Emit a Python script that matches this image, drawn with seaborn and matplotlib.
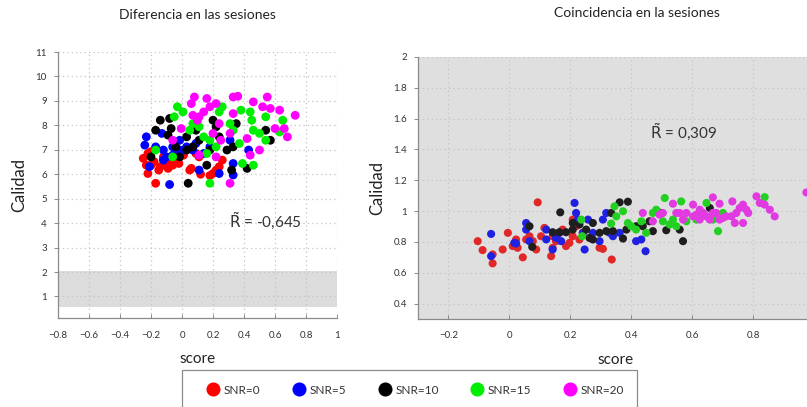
import pandas as pd
import matplotlib
matplotlib.use("Agg")
import matplotlib.pyplot as plt
import seaborn as sns
from matplotlib.patches import Rectangle
from matplotlib.ticker import FuncFormatter

# ---- data ----
snr_labels = ["SNR=0", "SNR=5", "SNR=10", "SNR=15", "SNR=20"]

# left panel: "Diferencia en las sesiones"
dif_x_snr0 = [-0.25, -0.23, -0.22, -0.20, -0.18, -0.17, -0.14, -0.12, -0.10, -0.08, -0.06, -0.04, -0.02, 0.01, 0.05,
              0.06, 0.09, 0.11, 0.20, 0.22, 0.24, 0.26, -0.22, -0.20, -0.15, -0.09, 0.00, 0.12, 0.18, -0.03]
dif_y_snr0 = [6.65, 6.37, 6.03, 6.92, 6.51, 5.63, 6.31, 6.71, 6.44, 6.58, 6.37, 6.85, 6.44, 6.78, 6.17,
              6.24, 6.85, 6.71, 6.03, 6.17, 6.31, 6.58, 6.85, 6.37, 6.17, 6.24, 6.90, 6.00, 5.95, 6.60]
dif_x_snr5 = [-0.23, -0.24, -0.21, -0.12, -0.08, -0.13, -0.12, -0.06, -0.015, 0.03, 0.07, 0.11, 0.18, 0.31, 0.33,
              0.43, 0.33, 0.24, -0.06, 0.01, -0.17, -0.10, 0.09, 0.14, -0.015]
dif_y_snr5 = [7.53, 7.19, 6.31, 6.58, 5.58, 7.67, 6.99, 6.78, 7.39, 7.12, 6.99, 6.17, 7.12, 7.39, 6.44,
              6.99, 5.97, 6.03, 7.12, 6.99, 7.12, 6.71, 7.26, 6.85, 6.99]
dif_x_snr10 = [-0.14, -0.08, -0.17, -0.07, -0.09, -0.20, -0.04, 0.03, 0.04, 0.09, 0.16, 0.20, 0.22, 0.29, 0.33,
               0.35, 0.42, 0.32, 0.54, 0.57, 0.03, 0.11, -0.015, 0.24, 0.18, 0.07]
dif_y_snr10 = [8.21, 8.28, 7.80, 7.87, 7.60, 6.71, 7.12, 6.99, 5.63, 7.80, 6.37, 8.21, 7.94, 6.99, 7.12,
               8.07, 6.24, 6.17, 7.80, 7.39, 7.53, 7.39, 6.71, 7.53, 6.99, 7.12]
dif_x_snr15 = [-0.03, 0.006, -0.05, -0.17, -0.06, 0.05, 0.11, 0.14, 0.18, 0.18, 0.24, 0.26, 0.31, 0.33, 0.38,
               0.44, 0.45, 0.46, 0.50, 0.54, 0.54, 0.65, 0.63, 0.39, 0.46, 0.16, 0.07, 0.22, 0.37]
dif_y_snr15 = [8.76, 8.55, 8.35, 6.99, 6.71, 7.80, 7.94, 7.53, 7.39, 5.63, 8.55, 8.76, 8.07, 7.80, 8.62,
               8.55, 8.21, 7.80, 7.67, 8.35, 7.39, 8.21, 7.73, 6.44, 6.37, 6.85, 8.07, 7.12, 7.26]
dif_x_snr20 = [0.08, 0.06, 0.16, 0.18, 0.22, 0.33, 0.36, 0.55, 0.46, 0.52, 0.57, 0.63, 0.73, 0.60, 0.66,
               0.68, 0.07, 0.11, 0.14, 0.10, -0.005, -0.06, 0.24, 0.20, 0.25, 0.31, 0.33, 0.42, 0.50, 0.44,
               0.31, 0.22, 0.11]
dif_y_snr20 = [9.16, 8.89, 9.10, 8.76, 8.89, 9.16, 9.19, 9.16, 8.96, 8.76, 8.69, 8.62, 8.41, 7.87, 7.87,
               7.53, 8.41, 8.35, 8.55, 8.21, 7.87, 7.39, 8.07, 7.67, 7.39, 7.67, 8.48, 7.46, 6.99, 6.78,
               5.63, 6.71, 6.78]

# right panel: "Coincidencia en la sesiones"
coi_x_snr0 = [-0.104, -0.088, -0.055, -0.055, -0.022, -0.005, 0.011, 0.027, 0.044, 0.055, 0.066, 0.077, 0.088,
              0.093, 0.115, 0.137, 0.142, 0.153, 0.164, 0.175, 0.186, 0.197, 0.208, 0.219, 0.230, 0.241,
              0.296, 0.307, 0.336, 0.022, 0.104, 0.142, 0.208]
coi_y_snr0 = [0.805, 0.747, 0.719, 0.661, 0.751, 0.859, 0.773, 0.762, 0.700, 0.816, 0.837, 0.805, 0.751,
              1.057, 0.891, 0.708, 0.762, 0.805, 0.859, 0.880, 0.773, 0.794, 0.945, 0.902, 0.816, 0.859,
              0.762, 0.755, 0.686, 0.816, 0.837, 0.837, 0.837]
coi_x_snr5 = [-0.060, -0.060, 0.016, 0.022, 0.055, 0.055, 0.066, 0.121, 0.121, 0.142, 0.153, 0.164, 0.170,
              0.214, 0.219, 0.225, 0.241, 0.247, 0.258, 0.274, 0.296, 0.307, 0.318, 0.329, 0.340, 0.362,
              0.416, 0.433, 0.447]
coi_y_snr5 = [0.852, 0.708, 0.794, 0.790, 0.923, 0.880, 0.805, 0.880, 0.816, 0.751, 0.826, 0.859, 0.805,
              1.053, 0.988, 0.945, 0.859, 0.751, 0.945, 0.859, 0.805, 0.945, 0.988, 0.859, 0.837, 0.859,
              0.805, 0.816, 0.740]
coi_x_snr10 = [0.066, 0.075, 0.167, 0.142, 0.164, 0.186, 0.208, 0.230, 0.252, 0.263, 0.274, 0.296, 0.318,
               0.334, 0.340, 0.362, 0.389, 0.373, 0.384, 0.416, 0.438, 0.460, 0.471, 0.493, 0.515, 0.559,
               0.570, 0.658, 0.208, 0.274]
coi_y_snr10 = [0.902, 0.768, 0.992, 0.863, 0.863, 0.863, 0.880, 0.913, 0.880, 0.826, 0.923, 0.859, 0.870,
               0.988, 0.870, 1.057, 1.061, 0.822, 0.880, 0.902, 0.902, 0.934, 0.870, 0.990, 0.876, 0.880,
               0.805, 1.020, 0.923, 0.816]
coi_x_snr15 = [0.236, 0.239, 0.334, 0.345, 0.351, 0.373, 0.389, 0.400, 0.416, 0.433, 0.449, 0.471, 0.482,
               0.510, 0.504, 0.526, 0.537, 0.548, 0.564, 0.581, 0.614, 0.647, 0.685, 0.668, 0.701, 0.838]
coi_y_snr15 = [0.945, 0.837, 0.919, 1.031, 0.966, 0.999, 0.923, 0.902, 0.880, 0.934, 0.859, 0.988, 1.009,
               1.085, 0.934, 0.913, 0.945, 0.902, 1.063, 0.934, 0.945, 1.053, 0.870, 0.945, 0.988, 1.091]
coi_x_snr20 = [0.438, 0.471, 0.493, 0.504, 0.537, 0.548, 0.570, 0.581, 0.603, 0.614, 0.625, 0.636, 0.647,
               0.658, 0.668, 0.679, 0.690, 0.701, 0.712, 0.729, 0.732, 0.740, 0.745, 0.756, 0.767, 0.767,
               0.778, 0.784, 0.811, 0.822, 0.838, 0.855, 0.871, 0.975, 0.603, 0.625, 0.668, 0.690, 0.559]
coi_y_snr20 = [0.988, 0.934, 0.977, 0.988, 1.048, 0.988, 0.945, 0.988, 1.042, 0.977, 0.945, 0.988, 0.966,
               0.945, 1.089, 0.988, 1.048, 0.956, 0.966, 0.966, 1.063, 0.923, 0.988, 1.020, 1.042, 0.923,
               1.009, 0.988, 1.096, 1.053, 1.042, 1.009, 0.966, 1.121, 0.966, 1.009, 0.988, 0.945, 0.988]

r_dif = "-0,645"
r_coi = "0,309"


def make_frame(xs, ys):
    rows = []
    for label, x, y in zip(snr_labels, xs, ys):
        rows += [{"score": a, "Calidad": b, "SNR": label} for a, b in zip(x, y)]
    return pd.DataFrame(rows)


df_dif = make_frame([dif_x_snr0, dif_x_snr5, dif_x_snr10, dif_x_snr15, dif_x_snr20],
                    [dif_y_snr0, dif_y_snr5, dif_y_snr10, dif_y_snr15, dif_y_snr20])
df_coi = make_frame([coi_x_snr0, coi_x_snr5, coi_x_snr10, coi_x_snr15, coi_x_snr20],
                    [coi_y_snr0, coi_y_snr5, coi_y_snr10, coi_y_snr15, coi_y_snr20])

pal_left = dict(zip(snr_labels, ["#ff0000", "#0000ff", "#000000", "#00ee00", "#ff00ff"]))
pal_right = dict(zip(snr_labels, ["#e02828", "#2020e0", "#1e1e1e", "#22d022", "#e03ae0"]))

sns.set_style("ticks")
plt.rcParams["font.family"] = ["Lato", "DejaVu Sans"]
plt.rcParams["mathtext.fontset"] = "dejavusans"

fig = plt.figure(figsize=(8.07, 4.07), dpi=100)
W, H = 807, 407
ax1 = fig.add_axes([58 / W, 1 - 318 / H, (337 - 58) / W, (318 - 52) / H])
ax2 = fig.add_axes([418 / W, 1 - 319 / H, (814 - 418) / W, (319 - 57) / H])

grid_kw = dict(color="#c4c4c4", linestyle=(0, (1, 2.5)), linewidth=0.9)
fmt = FuncFormatter(lambda v, pos: ("%g" % v).replace("-", "\u2212"))

# left
ax1.axhspan(0.55, 2.05, color="#dcdcdc", zorder=0, lw=0)
sns.scatterplot(data=df_dif, x="score", y="Calidad", hue="SNR", palette=pal_left,
                s=40, linewidth=0, ax=ax1, zorder=3)
ax1.set_xlim(-0.8, 1.0)
ax1.set_ylim(0.12, 11)
ax1.set_xticks([-0.8, -0.6, -0.4, -0.2, 0, 0.2, 0.4, 0.6, 0.8, 1.0])
ax1.set_yticks(range(1, 12))
ax1.text(0.3, 4.05, r"$\tilde{\mathrm{R}}$ = " + r_dif, fontsize=11, color="#333333", va="center")
ax1.set_title("Diferencia en las sesiones", fontsize=10, color="#222222", pad=24)

# right
ax2.set_facecolor("#dfdfdf")
sns.scatterplot(data=df_coi, x="score", y="Calidad", hue="SNR", palette=pal_right,
                s=34, linewidth=0, ax=ax2, zorder=3)
ax2.set_xlim(-0.3, 1.0)
ax2.set_ylim(0.3, 2.0)
ax2.set_xticks([-0.2, 0, 0.2, 0.4, 0.6, 0.8])
ax2.set_yticks([0.4, 0.6, 0.8, 1.0, 1.2, 1.4, 1.6, 1.8, 2.0])
ax2.text(0.46, 1.51, r"$\tilde{\mathrm{R}}$ = " + r_coi, fontsize=11, color="#333333", va="center")
ax2.set_title("Coincidencia en la sesiones", fontsize=10, color="#222222", x=0.552, pad=29)

for ax in (ax1, ax2):
    ax.grid(True, **grid_kw)
    ax.set_axisbelow(True)
    for side in ("top", "right"):
        ax.spines[side].set_visible(False)
    for side in ("left", "bottom"):
        ax.spines[side].set_color("#8a8a8a")
        ax.spines[side].set_linewidth(0.9)
    ax.tick_params(axis="x", direction="in", length=3, width=0.7, color="#8a8a8a",
                   labelsize=7, labelcolor="#333333", pad=9)
    ax.tick_params(axis="y", direction="out", length=3, width=0.7, color="#8a8a8a",
                   labelsize=7, labelcolor="#333333", pad=5)
    ax.xaxis.set_major_formatter(fmt)
    ax.yaxis.set_major_formatter(fmt)
    ax.set_xlabel("score", fontsize=11, color="#222222", labelpad=9)
    ax.set_ylabel("Calidad", fontsize=12, color="#222222", labelpad=6)

handles, labels = ax1.get_legend_handles_labels()
ax1.get_legend().remove()
ax2.get_legend().remove()

# legend box, cut off at the bottom like the original
fig.patches.append(Rectangle((182 / W, -0.1), (637 - 182) / W, 0.1 + 1 - 370 / H,
                             transform=fig.transFigure, facecolor="white",
                             edgecolor="#8a8a8a", linewidth=0.9, zorder=0))
leg = fig.legend(handles, labels, loc="center left", bbox_to_anchor=(195 / W, 1 - 390 / H),
                 ncol=5, frameon=False, fontsize=8.5, markerscale=1.6,
                 handletextpad=0.25, columnspacing=2.6, handlelength=1.3)
for t in leg.get_texts():
    t.set_color("#333333")

fig.savefig("out.png", dpi=100)
